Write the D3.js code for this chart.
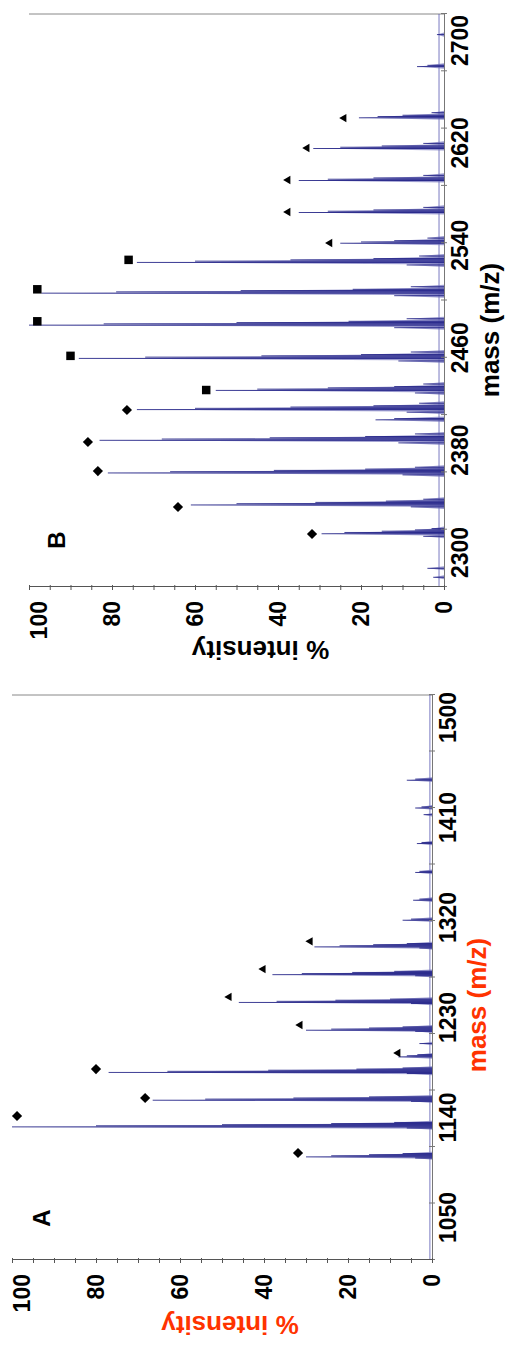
<!DOCTYPE html>
<html>
<head>
<meta charset="utf-8">
<title>mass spectra A and B</title>
<script src="https://cdn.jsdelivr.net/npm/d3@7/dist/d3.min.js"></script>
<style>
body { margin:0; background:#fff; }
svg text { font-family: "Liberation Sans", Arial, sans-serif; font-weight: bold; }
</style>
</head>
<body>
<script>
// ---- panel A data ----
var massLabelsA = [1050, 1140, 1230, 1320, 1410, 1500];
var massRangeA = [1012.2, 1520.7];
var peakMassA = [1104, 1105, 1106, 1107, 1108, 1131, 1132, 1133, 1134, 1135, 1136,
                 1155, 1156, 1157, 1158, 1159, 1180, 1181, 1182, 1183, 1184, 1185,
                 1195, 1196, 1197, 1207, 1218, 1219, 1220, 1221, 1222,
                 1243, 1244, 1245, 1246, 1247, 1268, 1269, 1270, 1271, 1272, 1293, 1294, 1295, 1296, 1297,
                 1318, 1319, 1336, 1337, 1361, 1362, 1387, 1388, 1413, 1419, 1420, 1444, 1445];
var peakIntA = [4, 30, 24, 15, 7, 6, 100, 80, 50, 24, 9,
                5, 66.5, 54, 33, 15, 6, 77, 63, 39, 18, 7,
                8, 6, 3.5, 3, 4, 30, 24, 15, 7,
                5, 46, 37, 23, 10, 4, 38, 31, 19, 9, 3, 28, 22, 14, 6,
                7, 5, 4.5, 3, 4, 3, 3.6, 2.5, 2, 4, 2.5, 6, 4];
var diamondMassA = [1108.5, 1141.8, 1158, 1184];
var diamondIntA = [31.9, 98.8, 68.3, 80];
var triMassA = [1198.5, 1223.7, 1249, 1274, 1299];
var triIntA = [8.1, 31.4, 48.3, 40.2, 29];

// ---- panel B data ----
var massLabelsB = [2300, 2380, 2460, 2540, 2620, 2700];
var massRangeB = [2273.4, 2721.1];
var peakMassB = [2281, 2288, 2313, 2315, 2316, 2317, 2318, 2319, 2336, 2337.5, 2338.5, 2339.5, 2340.5, 2342,
                 2361, 2362.5, 2363.5, 2364.5, 2365.5, 2367, 2386, 2388, 2389, 2390, 2391, 2393, 2404, 2405,
                 2410, 2412, 2413, 2414, 2415, 2417, 2425, 2427, 2428, 2429, 2430, 2432,
                 2450, 2452, 2453, 2454, 2455, 2457, 2476, 2478, 2479, 2480, 2481, 2483,
                 2501, 2503, 2504, 2505, 2506, 2508, 2525, 2527, 2528, 2529, 2530, 2532,
                 2542, 2543, 2544, 2546, 2566, 2567, 2568, 2570, 2591, 2592, 2593, 2595,
                 2616, 2617, 2618, 2620, 2640, 2641, 2642, 2644, 2680, 2681, 2705];
var peakIntB = [2.6, 4, 5, 29.5, 24, 15, 7, 3, 8, 61, 50, 31, 14, 5,
                10, 81, 66, 41, 19, 7, 11, 83, 68, 42, 19, 7, 16.5, 12,
                9, 74, 60, 37, 17, 6, 7, 55, 45, 28, 12, 5,
                11, 88, 72, 44, 20, 8, 12, 100, 82, 50, 23, 9,
                12, 97, 79, 49, 22, 8, 9, 74, 60, 37, 17, 6,
                25, 20, 12, 4, 35, 28, 17, 5, 35, 28, 17, 5,
                31.5, 25, 15, 5, 20.5, 16, 10, 3, 6.5, 4, 1.7];
var diamondMassB = [2314.8, 2335.9, 2364, 2386.7, 2411.7];
var diamondIntB = [31.8, 64.1, 83.4, 85.8, 76.4];
var squareMassB = [2427.3, 2454, 2481, 2506, 2529];
var squareIntB = [57.3, 90, 98, 98, 76];
var triMassB = [2542.2, 2566.4, 2591.4, 2616.4, 2639.8];
var triIntB = [27.5, 37.6, 37.6, 33, 24.1];

var intensityLabels = [0, 20, 40, 60, 80, 100];

var width = 505, height = 1347;
var svg = d3.select("body").append("svg").attr("width", width).attr("height", height);

var panels = [
  { name: "A", left: 12, bottom: 1260, w: 565, h: 420, range: massRangeA, labels: massLabelsA,
    mass: peakMassA, inten: peakIntA, half: 1.6, base: 0.5, titleColor: "#ff3300",
    markers: [["diamond", diamondMassA, diamondIntA], ["triangle", triMassA, triIntA]],
    letter: [42, 30], massTitle: [255, 45], intTitle: [65, 8] },
  { name: "B", left: 29, bottom: 587, w: 573, h: 415, range: massRangeB, labels: massLabelsB,
    mass: peakMassB, inten: peakIntB, half: 1.6, base: 1.2, titleColor: "#000",
    markers: [["diamond", diamondMassB, diamondIntB], ["square", squareMassB, squareIntB], ["triangle", triMassB, triIntB]],
    letter: [47, 28], massTitle: [257, 46], intTitle: [63, 24] }
];

panels.forEach(function(p) {
  // chart is drawn upright, then turned a quarter turn to the left
  var g = svg.append("g").attr("transform", "translate(" + p.left + "," + p.bottom + ") rotate(-90)");
  var x = d3.scaleLinear().domain(p.range).range([0, p.w]);
  var y = d3.scaleLinear().domain([0, 100]).range([p.h, 0]);

  g.append("line").attr("x1", p.w).attr("x2", p.w).attr("y1", 0).attr("y2", p.h)
    .attr("stroke", "#888").attr("stroke-width", 1);

  g.append("line").attr("x1", 0).attr("x2", p.w).attr("y1", y(p.base)).attr("y2", y(p.base))
    .attr("stroke", "#4040a8").attr("stroke-width", 0.7);

  var peaks = p.mass.map(function(m, i) { return { m: m, v: p.inten[i] }; });
  g.selectAll(".wedge").data(peaks).enter().append("path")
    .attr("d", function(d) {
      return "M" + x(d.m - p.half) + "," + y(0) + "L" + x(d.m) + "," + y(d.v) + "L" + x(d.m + p.half) + "," + y(0) + "Z";
    })
    .attr("fill", "#7070bb").attr("fill-opacity", 0.7);
  g.selectAll(".stick").data(peaks).enter().append("line")
    .attr("x1", function(d) { return x(d.m); }).attr("x2", function(d) { return x(d.m); })
    .attr("y1", y(0)).attr("y2", function(d) { return y(d.v); })
    .attr("stroke", "#14147e").attr("stroke-width", 0.8);

  // mass axis: ten equal divisions, labels on their own values
  var step = (p.range[1] - p.range[0]) / 10;
  var massTicks = d3.range(11).map(function(i) { return p.range[0] + i * step; });
  var ax = g.append("g").attr("transform", "translate(0," + p.h + ")")
    .call(d3.axisBottom(x).tickValues(massTicks).tickSizeInner(3).tickSizeOuter(0).tickFormat(""));
  ax.select(".domain").attr("stroke", "#777");
  ax.selectAll(".tick line").attr("y1", -3).attr("stroke", "#777");

  var lab = g.append("g").attr("transform", "translate(0," + p.h + ")")
    .call(d3.axisBottom(x).tickValues(p.labels).tickSize(0).tickPadding(8).tickFormat(d3.format("d")));
  lab.select(".domain").remove();
  lab.attr("font-family", null).attr("font-size", 23).attr("fill", "#000");

  // intensity axis
  var ay = g.append("g")
    .call(d3.axisLeft(y).tickValues(d3.range(0, 101, 5)).tickSizeInner(3).tickSizeOuter(0).tickPadding(11)
      .tickFormat(function(d) { return intensityLabels.indexOf(d) >= 0 ? d : ""; }));
  ay.attr("font-family", null).attr("font-size", 23);
  ay.select(".domain").attr("stroke", "#555");
  ay.selectAll(".tick line").attr("x1", 2).attr("stroke", "#555");
  // top label sits a little inside the plot edge
  ay.selectAll(".tick text").filter(function(d) { return d === 100; }).attr("y", 10);

  // markers
  var shapes = { diamond: d3.symbolSquare, square: d3.symbolSquare, triangle: d3.symbolTriangle };
  var sizes = { diamond: 52, square: 72, triangle: 30 };
  p.markers.forEach(function(mk) {
    var pts = mk[1].map(function(m, i) { return { m: m, v: mk[2][i] }; });
    g.selectAll(".mk-" + mk[0]).data(pts).enter().append("path")
      .attr("d", d3.symbol().type(shapes[mk[0]]).size(sizes[mk[0]]))
      .attr("transform", function(d) {
        return "translate(" + x(d.m) + "," + y(d.v) + ")" + (mk[0] === "diamond" ? " rotate(45)" : "");
      })
      .attr("fill", "#000");
  });

  // titles
  g.append("text").attr("x", p.letter[0]).attr("y", p.letter[1]).attr("dy", "0.35em")
    .attr("text-anchor", "middle").attr("font-size", 24).text(p.name);
  g.append("text").attr("x", p.massTitle[0]).attr("y", p.h + p.massTitle[1]).attr("dy", "0.35em")
    .attr("text-anchor", "middle").attr("font-size", 26).attr("fill", p.titleColor).text("mass (m/z)");
  g.append("text").attr("transform", "translate(" + (-p.intTitle[0]) + "," + (p.h / 2 + p.intTitle[1]) + ") rotate(-90)")
    .attr("dy", "0.35em").attr("text-anchor", "middle").attr("font-size", 26)
    .attr("fill", p.titleColor).text("% intensity");
});
</script>
</body>
</html>
